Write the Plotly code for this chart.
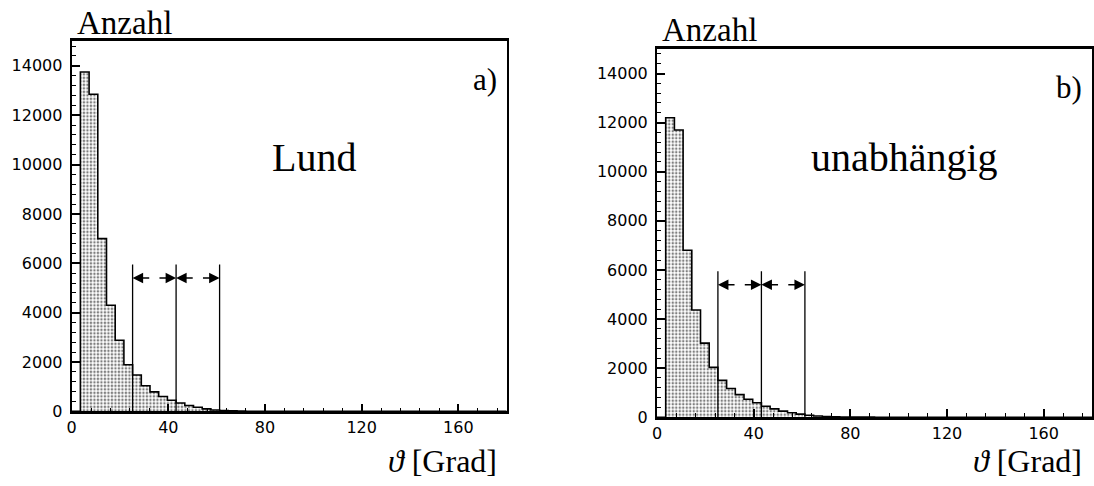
import plotly.graph_objects as go

# Polar-angle distributions, 50 bins of 3.6 degrees from 0 to 180
BIN_WIDTH = 3.6
N_BINS = 50

counts_lund = [0, 13750, 12850, 7000, 4300, 2880, 1890, 1475, 1040, 790,
               600, 450, 340, 240, 165, 100, 55, 30, 18, 10,
               6, 4, 3, 2, 1, 1]
counts_indep = [0, 12200, 11700, 6800, 4370, 3020, 2030, 1500, 1170, 920,
                730, 590, 450, 340, 250, 180, 125, 80, 50, 30,
                20, 12, 8, 5, 3, 2, 1]

# angular cut boundaries and arrow height
cut_edges = [25.2, 43.2, 61.2]
cut_top = 5950
arrow_y = 5400

panel_labels = ["a)", "b)"]
model_names = ["Lund", "unabhängig"]
y_label = "Anzahl"
x_label = "<i>ϑ</i> [Grad]"
x_ticks = [0, 40, 80, 120, 160]
y_ticks = [0, 2000, 4000, 6000, 8000, 10000, 12000, 14000]

W, H = 1094, 486
SERIF = "Liberation Serif, Times New Roman, serif"
SANS = "DejaVu Sans, sans-serif"


def px(x):
    return x / W


def py(y):
    return 1 - y / H


def step_xy(counts):
    vals = list(counts) + [0] * (N_BINS - len(counts))
    xs = [i * BIN_WIDTH for i in range(N_BINS + 1)]
    ys = vals + [vals[-1]]
    return xs, ys


fig = go.Figure()

# panel geometry in pixels: (left, right, top, bottom)
panels = [(67, 504, 42, 420), (655, 1092, 50, 426)]
data_sets = [counts_lund, counts_indep]
name_left = [266, 808]

for k, (counts, (l, r, t, b)) in enumerate(zip(data_sets, panels)):
    xa = "x" if k == 0 else "x2"
    ya = "y" if k == 0 else "y2"
    xs, ys = step_xy(counts)
    fig.add_trace(go.Scatter(
        x=xs, y=ys, mode="lines", line_shape="hv",
        line=dict(color="black", width=1.6),
        fill="tozeroy", fillcolor="white",
        fillpattern=dict(shape=".", fgcolor="black", bgcolor="white",
                         size=3.5, solidity=0.4),
        xaxis=xa, yaxis=ya, showlegend=False, hoverinfo="skip",
    ))
    # vertical cut lines
    vx, vy = [], []
    for c in cut_edges:
        vx += [c, c, None]
        vy += [0, cut_top, None]
    fig.add_trace(go.Scatter(
        x=vx, y=vy, mode="lines", line=dict(color="black", width=1.3),
        xaxis=xa, yaxis=ya, showlegend=False, hoverinfo="skip",
    ))
    # double arrows between cuts, with a small gap in the middle
    for a, c in zip(cut_edges[:-1], cut_edges[1:]):
        mid = (a + c) / 2
        for tip, tail in ((a, mid - 1.5), (c, mid + 1.5)):
            fig.add_annotation(
                x=tip, y=arrow_y, ax=tail, ay=arrow_y,
                xref=xa, yref=ya, axref=xa, ayref=ya,
                text="", showarrow=True, arrowhead=2, arrowsize=1.4,
                arrowwidth=1.5, arrowcolor="black", standoff=0,
            )

    axis_common = dict(
        showline=True, linecolor="black", mirror=True,
        showgrid=False, zeroline=False,
        ticks="inside", tickcolor="black", ticklen=8, tickwidth=1.5,
        tickfont=dict(family=SANS, size=16, color="black"),
        tickformat="d",
    )
    xkey = "xaxis" if k == 0 else "xaxis2"
    ykey = "yaxis" if k == 0 else "yaxis2"
    fig.update_layout(**{
        xkey: dict(axis_common, domain=[px(l), px(r)], range=[0, 180],
                   tickvals=x_ticks, linewidth=2.5, anchor=ya,
                   minor=dict(dtick=8, ticks="inside", ticklen=4,
                              tickcolor="black", tickwidth=1.2)),
        ykey: dict(axis_common, domain=[py(b), py(t)], range=[0, 15000],
                   tickvals=y_ticks, linewidth=2, anchor=xa,
                   ticklabelstandoff=4,
                   minor=dict(dtick=400, ticks="inside", ticklen=4,
                              tickcolor="black", tickwidth=1.2)),
    })

    # texts
    fig.add_annotation(x=px(l + 3), y=py(t - 19), xref="paper", yref="paper",
                       text=y_label, showarrow=False, xanchor="left",
                       yanchor="middle",
                       font=dict(family=SERIF, size=33, color="black"))
    fig.add_annotation(x=px(r - 8), y=py(t + 39), xref="paper", yref="paper",
                       text=panel_labels[k], showarrow=False, xanchor="right",
                       yanchor="middle",
                       font=dict(family=SERIF, size=31, color="black"))
    fig.add_annotation(x=px(name_left[k]), y=py(161),
                       xref="paper", yref="paper",
                       text=model_names[k], showarrow=False, xanchor="left",
                       yanchor="middle",
                       font=dict(family=SERIF, size=40, color="black"))
    fig.add_annotation(x=px(r - 8), y=py(471), xref="paper", yref="paper",
                       text=x_label, showarrow=False, xanchor="right",
                       yanchor="middle",
                       font=dict(family=SERIF, size=32, color="black"))

fig.update_layout(
    width=W, height=H,
    margin=dict(l=0, r=0, t=0, b=0),
    paper_bgcolor="white", plot_bgcolor="white",
    showlegend=False,
)

fig.write_html("out.html")
